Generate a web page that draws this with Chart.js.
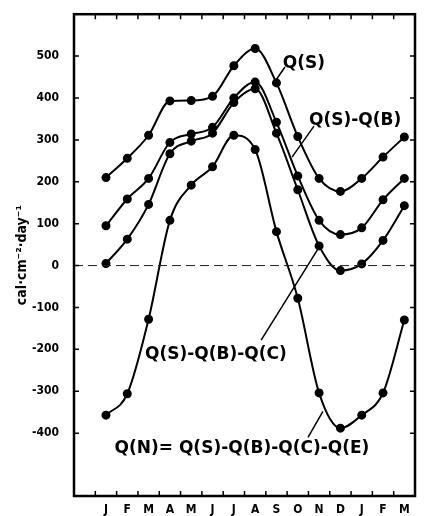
<!DOCTYPE html>
<html>
<head>
<meta charset="utf-8">
<script src="https://cdn.jsdelivr.net/npm/chart.js@4"></script>
<style>
  html, body { margin: 0; padding: 0; background: #fff; }
  #wrap { width: 435px; height: 516px; }
</style>
</head>
<body>
<div id="wrap"><canvas id="heat-chart"></canvas></div>
<script>
// months, first slot left empty (as in the original figure)
const months = ["", "J", "F", "M", "A", "M", "J", "J", "A", "S", "O", "N", "D", "J", "F", "M"];
const yTickValues = [500, 400, 300, 200, 100, 0, -100, -200, -300, -400];

const qS = [210, 256, 311, 393, 394, 404, 477, 518, 436, 308, 208, 177, 208, 259, 307];
const qSB = [95, 159, 208, 294, 314, 330, 400, 438, 342, 214, 108, 74, 90, 157, 208];
const qSBC = [5, 63, 146, 267, 297, 316, 389, 422, 316, 181, 47, -12, 4, 60, 143];
const qN = [-357, -306, -128, 108, 192, 236, 311, 277, 81, -78, -304, -388, -357, -304, -130];

// label text, centre (category index, value), leader line from -> to
const notes = [
  { text: "Q(S)", at: [10.29, 481], from: [9.4, 474], to: [8.98, 443] },
  { text: "Q(S)-Q(B)", at: [12.69, 347], from: [10.76, 333], to: [9.73, 259] },
  { text: "Q(S)-Q(B)-Q(C)", at: [6.16, -213], from: [8.28, -178], to: [10.95, 40] },
  { text: "Q(N)= Q(S)-Q(B)-Q(C)-Q(E)", at: [7.38, -438], from: [10.48, -410], to: [11.18, -348] },
];

const condensed = "'DejaVu Sans Condensed', 'Liberation Sans Narrow', sans-serif";

function series(vals) {
  return {
    data: [null].concat(vals),
    borderColor: "#000",
    backgroundColor: "#000",
    borderWidth: 2,
    pointRadius: 3.5,
    pointHoverRadius: 3.5,
    cubicInterpolationMode: "monotone",
  };
}

const framePlugin = {
  id: "frame",
  afterDatasetsDraw(chart) {
    const ctx = chart.ctx;
    const a = chart.chartArea;
    const x = chart.scales.x;
    const y = chart.scales.y;
    ctx.save();

    // dashed zero line
    const y0 = y.getPixelForValue(0);
    ctx.strokeStyle = "#222";
    ctx.lineWidth = 1;
    ctx.setLineDash([9, 5]);
    ctx.beginPath();
    ctx.moveTo(a.left, y0);
    ctx.lineTo(a.right, y0);
    ctx.stroke();
    ctx.setLineDash([]);

    // frame
    ctx.strokeStyle = "#000";
    ctx.lineWidth = 2.5;
    ctx.strokeRect(a.left, a.top, a.right - a.left, a.bottom - a.top);

    // inward ticks
    ctx.lineWidth = 1.5;
    const tl = 5;
    ctx.beginPath();
    yTickValues.forEach(v => {
      const p = y.getPixelForValue(v);
      ctx.moveTo(a.left, p); ctx.lineTo(a.left + tl, p);
      ctx.moveTo(a.right, p); ctx.lineTo(a.right - tl, p);
    });
    for (let i = 1; i < months.length; i++) {
      const p = (x.getPixelForValue(i - 1) + x.getPixelForValue(i)) / 2;
      ctx.moveTo(p, a.top); ctx.lineTo(p, a.top + tl);
      ctx.moveTo(p, a.bottom); ctx.lineTo(p, a.bottom - tl);
    }
    ctx.stroke();

    // curve labels
    const px = (pt) => {
      const i = Math.floor(pt[0]);
      const f = pt[0] - i;
      const xp = x.getPixelForValue(i) + f * (x.getPixelForValue(i + 1) - x.getPixelForValue(i));
      return [xp, y.getPixelForValue(pt[1])];
    };
    ctx.font = "bold 17px 'DejaVu Sans', sans-serif";
    ctx.fillStyle = "#000";
    ctx.textAlign = "center";
    ctx.textBaseline = "middle";
    ctx.lineWidth = 1.5;
    notes.forEach(n => {
      const c = px(n.at);
      ctx.fillText(n.text, c[0], c[1]);
      const f = px(n.from), t = px(n.to);
      ctx.beginPath();
      ctx.moveTo(f[0], f[1]);
      ctx.lineTo(t[0], t[1]);
      ctx.stroke();
    });
    ctx.restore();
  }
};

new Chart(document.getElementById("heat-chart"), {
  type: "line",
  data: {
    labels: months,
    datasets: [series(qS), series(qSB), series(qSBC), series(qN)]
  },
  options: {
    responsive: true,
    maintainAspectRatio: false,
    animation: false,
    events: [],
    layout: { padding: { left: 0, right: 20, top: 10, bottom: 0 } },
    plugins: { legend: { display: false }, tooltip: { enabled: false } },
    scales: {
      x: {
        type: "category",
        offset: true,
        grid: { display: false, offset: true },
        border: { display: false },
        ticks: {
          color: "#000",
          padding: 0,
          maxRotation: 0,
          autoSkip: false,
          font: { family: condensed, weight: "bold", size: 12, lineHeight: 1 }
        },
        afterFit(scale) { scale.height = 20; }
      },
      y: {
        min: -550,
        max: 600,
        grid: { display: false },
        border: { display: false },
        afterBuildTicks(scale) { scale.ticks = yTickValues.map(v => ({ value: v })); },
        ticks: {
          color: "#000",
          padding: 7,
          font: { family: condensed, weight: "bold", size: 12 }
        },
        title: {
          display: true,
          text: "cal·cm⁻²·day⁻¹",
          color: "#000",
          padding: { top: 14, bottom: 0 },
          font: { family: condensed, weight: "bold", size: 14 }
        },
        afterFit(scale) { scale.width = 74; }
      }
    }
  },
  plugins: [framePlugin]
});
</script>
</body>
</html>
